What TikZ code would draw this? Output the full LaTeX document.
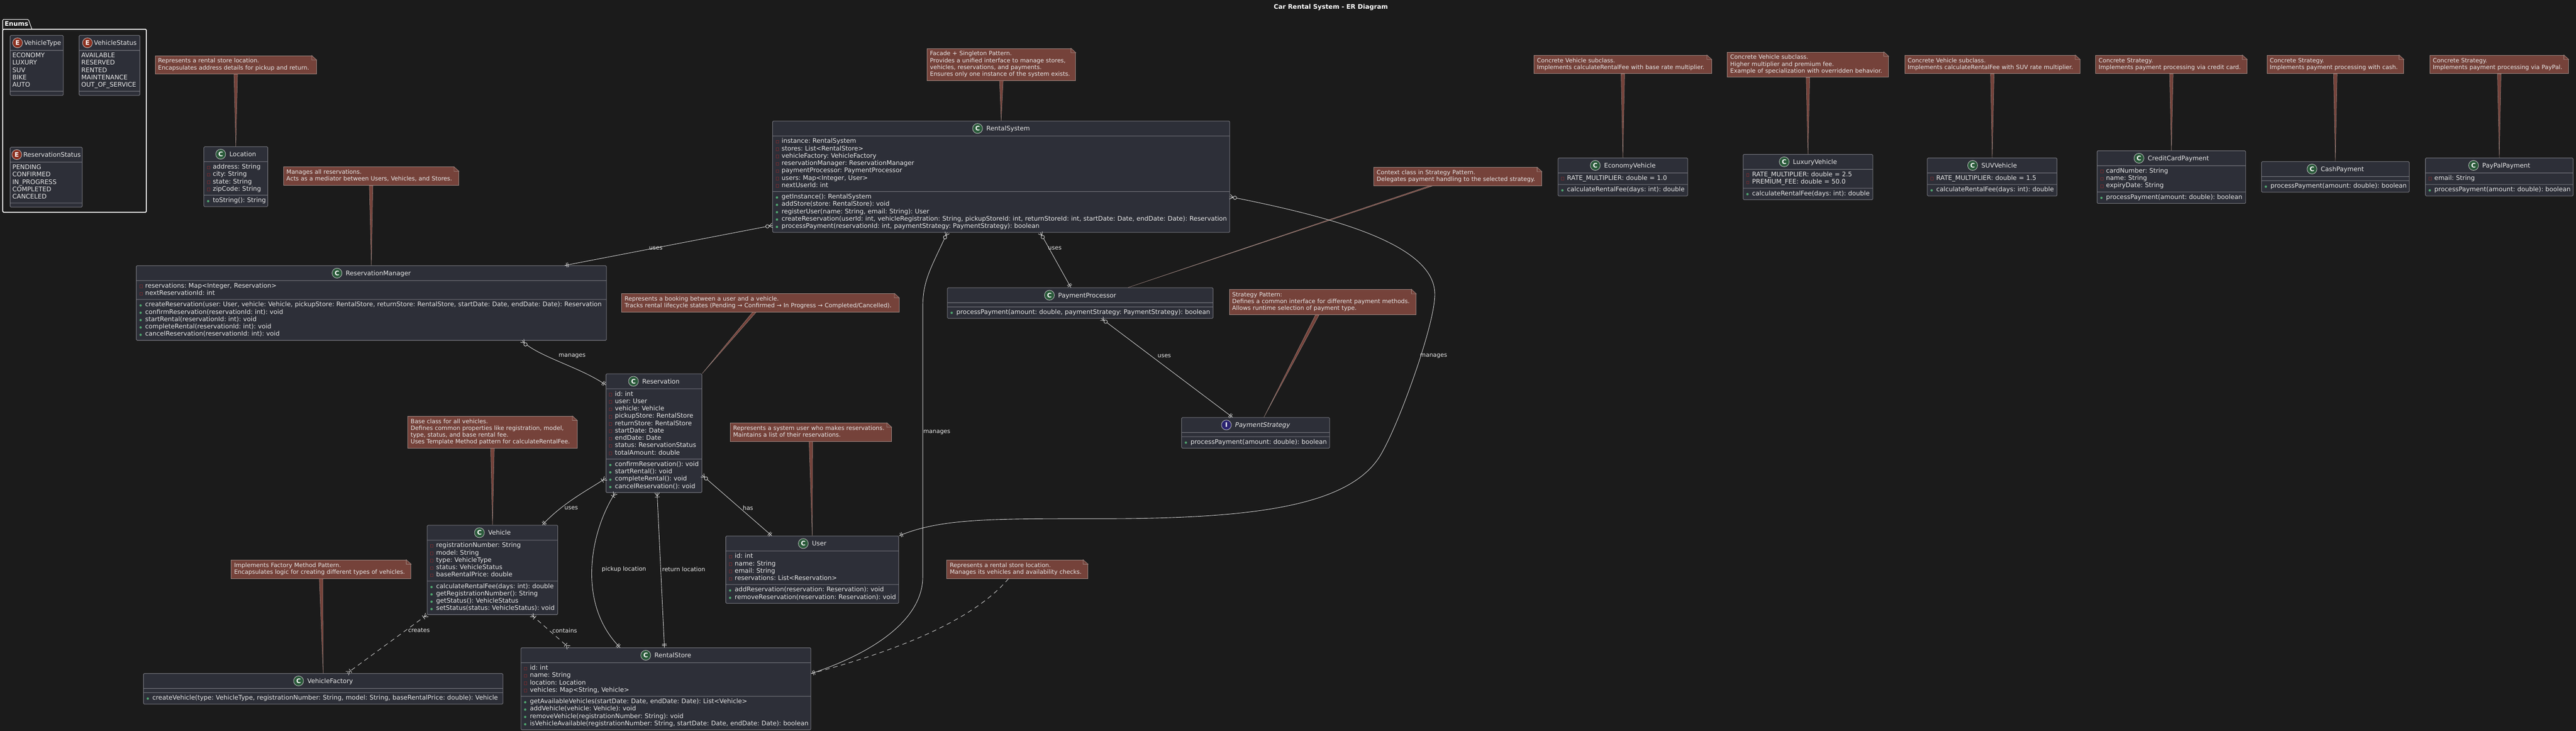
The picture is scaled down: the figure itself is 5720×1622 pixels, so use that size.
\documentclass[tikz,border=0pt]{standalone}
\usepackage{fontspec}
\setmainfont{DejaVu Sans}
\usepackage{xcolor}
\usetikzlibrary{arrows.meta, shapes.multipart}
\frenchspacing

\definecolor{pagebg}{HTML}{1B1B1B}
\definecolor{boxfill}{HTML}{2D2F38}
\definecolor{boxline}{HTML}{74757C}
\definecolor{notefill}{HTML}{75423A}
\definecolor{noteline}{HTML}{A08A84}
\definecolor{linkcolor}{HTML}{DDDDDD}
\definecolor{textcolor}{HTML}{E8E8E8}
\definecolor{classgreen}{HTML}{2A5A3A}
\definecolor{enumred}{HTML}{8A2F1F}
\definecolor{ifaceblue}{HTML}{2B2370}
\definecolor{privred}{HTML}{6E2C30}
\definecolor{pubgreen}{HTML}{4FA56E}

% End markers of the relations
\newcommand{\umlend}[2]{\pgfdeclarearrow{name=#1,
	setup code={\pgfarrowssetlineend{0pt}\pgfarrowssettipend{0pt}\pgfarrowssetbackend{-7pt}%
		\pgfarrowshullpoint{0pt}{3pt}\pgfarrowshullpoint{-7pt}{3pt}%
		\pgfarrowshullpoint{-7pt}{-3pt}\pgfarrowshullpoint{0pt}{-3pt}},
	drawing code={\pgfsetlinewidth{.5pt}\pgfsetdash{}{0pt}#2}}}
\newcommand{\crowfoot}{\pgfpathmoveto{\pgfpoint{0pt}{2.6pt}}\pgfpathlineto{\pgfpoint{-3.6pt}{0pt}}\pgfpathlineto{\pgfpoint{0pt}{-2.6pt}}\pgfusepathqstroke}
\newcommand{\crossbar}[1]{\pgfpathmoveto{\pgfpoint{#1}{2.6pt}}\pgfpathlineto{\pgfpoint{#1}{-2.6pt}}\pgfusepathqstroke}
\umlend{ZeroMany}{\crowfoot\pgfsetfillcolor{pagebg}\pgfpathcircle{\pgfpoint{-5.6pt}{0pt}}{1.9pt}\pgfusepathqfillstroke}
\umlend{OneMany}{\crowfoot\crossbar{-4.6pt}}
\umlend{OnlyOne}{\crossbar{-2.2pt}\crossbar{-3.8pt}}

% Class heads and members
\newcommand{\umlhead}[4]{\noindent\makebox[\linewidth]{\rule[-3.5pt]{0pt}{12pt}\tikz[baseline=(i.base)]\node[iconball,fill=#1] (i) {#2};\hspace{#3}\textcolor{textcolor}{#4}}\par}
\newcommand{\classhead}[1]{\umlhead{classgreen}{C}{4pt}{#1}}
\newcommand{\enumhead}[1]{\umlhead{enumred}{E}{1.5pt}{#1}}
\newcommand{\fld}[1]{\noindent\strut\makebox[7.5pt][l]{\hspace{1pt}\tikz[baseline=0pt]\draw[sharp corners,draw=privred,fill=boxfill,line width=.5pt] (0pt,0pt) rectangle (2.8pt,3.2pt);}\mbox{\textcolor{textcolor}{#1}}\par}
\newcommand{\mth}[1]{\noindent\strut\makebox[7.5pt][l]{\hspace{1pt}\tikz[baseline=0pt]\fill[pubgreen] (1.3pt,1.4pt) circle (1.3pt);}\mbox{\textcolor{textcolor}{#1}}\par}
\newcommand{\en}[1]{\noindent\strut\mbox{#1}\par}
\newcommand{\nt}[1]{\strut #1\strut}

\tikzset{
	iconball/.style={circle,draw=white!75!black,line width=.5pt,text=white,minimum size=11pt,inner sep=0pt,font=\fontsize{7}{8}\selectfont\bfseries},
	classw/.code={\pgfmathsetmacro\boxw{#1/2-5}\pgfkeysalso{/tikz/text width=\boxw pt}},
	notew/.code={\pgfmathsetmacro\boxw{#1/2-6.5}\pgfkeysalso{/tikz/text width=\boxw pt}},
	umlclass/.style={classw=#1,anchor=north west,rectangle split,rectangle split parts=3,
		rectangle split empty part height=0pt,rectangle split empty part depth=0pt,
		draw=boxline,fill=boxfill,line width=.6pt,rounded corners=1pt,
		inner xsep=2.5pt,inner ysep=2pt,text=textcolor,font=\fontsize{7}{8.15}\selectfont},
	umlnote/.style={notew=#1,anchor=north west,rectangle,draw=noteline,fill=notefill,line width=.5pt,
		inner xsep=3.25pt,inner ysep=2.75pt,align=left,text=textcolor,font=\fontsize{6.5}{7.5}\selectfont},
	notelink/.style={draw=noteline,fill=notefill,line width=.3pt},
	notefold/.style={draw=noteline,fill=notefill,line width=.4pt},
	rel/.style={draw=linkcolor,line width=.5pt},
	reldash/.style={rel,dash pattern=on 5pt off 4pt},
	rellabel/.style={anchor=west,inner sep=0pt,text=textcolor,font=\fontsize{6.5}{7.5}\selectfont}
}

\begin{document}
\begin{tikzpicture}[x=0.5pt,y=-0.5pt]
	\useasboundingbox (0,0) rectangle (5720,1622);
	\fill[pagebg] (0,0) rectangle (5720,1622);

	% Title
	\node[text=white,font=\fontsize{7}{8}\selectfont\bfseries] (title) at (2955,16) {Car Rental System - ER Diagram};

	% Enums package
	\draw[white,line width=1pt,rounded corners=1pt] (6,65) rectangle (325,471);
	\draw[white,line width=.6pt,rounded corners=1pt] (6,65) -- (6,43) -- (63,43) -- (71,65);
	\node[anchor=west,inner sep=0pt,text=white,font=\fontsize{7}{8}\selectfont\bfseries] (enums) at (10,53) {Enums};
	\node[umlclass=118] (vehicletype) at (22,78) {\enumhead{VehicleType}
		\nodepart{two}\en{ECONOMY}\en{LUXURY}\en{SUV}\en{BIKE}\en{AUTO}
		\nodepart{three}};
	\node[umlclass=135] (vehiclestatus) at (175,78) {\enumhead{VehicleStatus}
		\nodepart{two}\en{AVAILABLE}\en{RESERVED}\en{RENTED}\en{MAINTENANCE}\en{OUT\_OF\_SERVICE}
		\nodepart{three}};
	\node[umlclass=160] (resstatus) at (22,326) {\enumhead{ReservationStatus}
		\nodepart{two}\en{PENDING}\en{CONFIRMED}\en{IN\_PROGRESS}\en{COMPLETED}\en{CANCELED}
		\nodepart{three}};

	% Classes
	\node[umlclass=142] (location) at (452,325) {\classhead{Location}
		\nodepart{two}\fld{address: String}\fld{city: String}\fld{state: String}\fld{zipCode: String}
		\nodepart{three}\mth{toString(): String}};
	\node[umlclass=1044] (manager) at (302,589) {\classhead{ReservationManager}
		\nodepart{two}\fld{reservations: Map<Integer, Reservation>}\fld{nextReservationId: int}
		\nodepart{three}\mth{createReservation(user: User, vehicle: Vehicle, pickupStore: RentalStore, returnStore: RentalStore, startDate: Date, endDate: Date): Reservation}\mth{confirmReservation(reservationId: int): void}\mth{startRental(reservationId: int): void}\mth{completeRental(reservationId: int): void}\mth{cancelReservation(reservationId: int): void}};
	\node[umlclass=1015] (system) at (1715,268) {\classhead{RentalSystem}
		\nodepart{two}\fld{instance: RentalSystem}\fld{stores: List<RentalStore>}\fld{vehicleFactory: VehicleFactory}\fld{reservationManager: ReservationManager}\fld{paymentProcessor: PaymentProcessor}\fld{users: Map<Integer, User>}\fld{nextUserId: int}
		\nodepart{three}\mth{getInstance(): RentalSystem}\mth{addStore(store: RentalStore): void}\mth{registerUser(name: String, email: String): User}\mth{createReservation(userId: int, vehicleRegistration: String, pickupStoreId: int, returnStoreId: int, startDate: Date, endDate: Date): Reservation}\mth{processPayment(reservationId: int, paymentStrategy: PaymentStrategy): boolean}};
	\node[umlclass=288] (economy) at (3459,350) {\classhead{EconomyVehicle}
		\nodepart{two}\fld{RATE\_MULTIPLIER: double = 1.0}
		\nodepart{three}\mth{calculateRentalFee(days: int): double}};
	\node[umlclass=288] (luxury) at (3870,342) {\classhead{LuxuryVehicle}
		\nodepart{two}\fld{RATE\_MULTIPLIER: double = 2.5}\fld{PREMIUM\_FEE: double = 50.0}
		\nodepart{three}\mth{calculateRentalFee(days: int): double}};
	\node[umlclass=288] (suv) at (4279,350) {\classhead{SUVVehicle}
		\nodepart{two}\fld{RATE\_MULTIPLIER: double = 1.5}
		\nodepart{three}\mth{calculateRentalFee(days: int): double}};
	\node[umlclass=330] (credit) at (4656,334) {\classhead{CreditCardPayment}
		\nodepart{two}\fld{cardNumber: String}\fld{name: String}\fld{expiryDate: String}
		\nodepart{three}\mth{processPayment(amount: double): boolean}};
	\node[umlclass=328] (cash) at (5021,358) {\classhead{CashPayment}
		\nodepart{two}
		\nodepart{three}\mth{processPayment(amount: double): boolean}};
	\node[umlclass=328] (paypal) at (5385,350) {\classhead{PayPalPayment}
		\nodepart{two}\fld{email: String}
		\nodepart{three}\mth{processPayment(amount: double): boolean}};
	\node[umlclass=590] (processor) at (2103,638) {\classhead{PaymentProcessor}
		\nodepart{two}
		\nodepart{three}\mth{processPayment(amount: double, paymentStrategy: PaymentStrategy): boolean}};
	\node[umlclass=329] (strategy) at (2623,926) {\umlhead{ifaceblue}{I}{4pt}{\itshape PaymentStrategy}
		\nodepart{two}
		\nodepart{three}\mth{processPayment(amount: double): boolean}};
	\node[umlclass=213] (reservation) at (1345,829) {\classhead{Reservation}
		\nodepart{two}\fld{id: int}\fld{user: User}\fld{vehicle: Vehicle}\fld{pickupStore: RentalStore}\fld{returnStore: RentalStore}\fld{startDate: Date}\fld{endDate: Date}\fld{status: ReservationStatus}\fld{totalAmount: double}
		\nodepart{three}\mth{confirmReservation(): void}\mth{startRental(): void}\mth{completeRental(): void}\mth{cancelReservation(): void}};
	\node[umlclass=290] (vehicle) at (948,1165) {\classhead{Vehicle}
		\nodepart{two}\fld{registrationNumber: String}\fld{model: String}\fld{type: VehicleType}\fld{status: VehicleStatus}\fld{baseRentalPrice: double}
		\nodepart{three}\mth{calculateRentalFee(days: int): double}\mth{getRegistrationNumber(): String}\mth{getStatus(): VehicleStatus}\mth{setStatus(status: VehicleStatus): void}};
	\node[umlclass=384] (user) at (1611,1189) {\classhead{User}
		\nodepart{two}\fld{id: int}\fld{name: String}\fld{email: String}\fld{reservations: List<Reservation>}
		\nodepart{three}\mth{addReservation(reservation: Reservation): void}\mth{removeReservation(reservation: Reservation): void}};
	\node[umlclass=644] (store) at (1156,1437) {\classhead{RentalStore}
		\nodepart{two}\fld{id: int}\fld{name: String}\fld{location: Location}\fld{vehicles: Map<String, Vehicle>}
		\nodepart{three}\mth{getAvailableVehicles(startDate: Date, endDate: Date): List<Vehicle>}\mth{addVehicle(vehicle: Vehicle): void}\mth{removeVehicle(registrationNumber: String): void}\mth{isVehicleAvailable(registrationNumber: String, startDate: Date, endDate: Date): boolean}};
	\node[umlclass=798] (factory) at (318,1494) {\classhead{VehicleFactory}
		\nodepart{two}
		\nodepart{three}\mth{createVehicle(type: VehicleType, registrationNumber: String, model: String, baseRentalPrice: double): Vehicle}};

	% Notes
	\node[umlnote=358] (noteloc) at (344,123) {\nt{Represents a rental store location.\\Encapsulates address details for pickup and return.}};
	\node[umlnote=389] (notemgr) at (629,370) {\nt{Manages all reservations.\\Acts as a mediator between Users, Vehicles, and Stores.}};
	\node[umlnote=330] (notesys) at (2058,107) {\nt{Facade + Singleton Pattern.\\Provides a unified interface to manage stores,\\vehicles, reservations, and payments.\\Ensures only one instance of the system exists.}};
	\node[umlnote=394] (noteeco) at (3406,122) {\nt{Concrete Vehicle subclass.\\Implements calculateRentalFee with base rate multiplier.}};
	\node[umlnote=358] (notelux) at (3835,115) {\nt{Concrete Vehicle subclass.\\Higher multiplier and premium fee.\\Example of specialization with overridden behavior.}};
	\node[umlnote=389] (notesuv) at (4229,122) {\nt{Concrete Vehicle subclass.\\Implements calculateRentalFee with SUV rate multiplier.}};
	\node[umlnote=336] (notecard) at (4653,122) {\nt{Concrete Strategy.\\Implements payment processing via credit card.}};
	\node[umlnote=304] (notecash) at (5033,122) {\nt{Concrete Strategy.\\Implements payment processing with cash.}};
	\node[umlnote=308] (notepay) at (5395,122) {\nt{Concrete Strategy.\\Implements payment processing via PayPal.}};
	\node[umlnote=373] (notectx) at (3050,371) {\nt{Context class in Strategy Pattern.\\Delegates payment handling to the selected strategy.}};
	\node[umlnote=415] (notestrat) at (2729,642) {\nt{Strategy Pattern:\\Defines a common interface for different payment methods.\\Allows runtime selection of payment type.}};
	\node[umlnote=616] (noteres) at (1380,651) {\nt{Represents a booking between a user and a vehicle.\\Tracks rental lifecycle states (Pending → Confirmed → In Progress → Completed/Cancelled).}};
	\node[umlnote=358] (noteuser) at (1621,938) {\nt{Represents a system user who makes reservations.\\Maintains a list of their reservations.}};
	\node[umlnote=376] (notevehicle) at (905,923) {\nt{Base class for all vehicles.\\Defines common properties like registration, model,\\type, status, and base rental fee.\\Uses Template Method pattern for calculateRentalFee.}};
	\node[umlnote=399] (notefactory) at (513,1242) {\nt{Implements Factory Method Pattern.\\Encapsulates logic for creating different types of vehicles.}};
	\node[umlnote=313] (notestore) at (2102,1242) {\nt{Represents a rental store location.\\Manages its vehicles and availability checks.}};

	% Folded corners of the notes
	\foreach \n in {noteloc,notemgr,notesys,noteeco,notelux,notesuv,notecard,notecash,notepay,notectx,notestrat,noteres,noteuser,notevehicle,notefactory,notestore} {
		\fill[pagebg] ([xshift=-5.5pt,yshift=.4pt]\n.north east) -- ([xshift=.4pt,yshift=.4pt]\n.north east) -- ([xshift=.4pt,yshift=-5pt]\n.north east) -- cycle;
		\filldraw[notefold] ([xshift=-5.5pt]\n.north east) -- ([yshift=-5pt]\n.north east) -- ([xshift=-5.5pt,yshift=-5pt]\n.north east) -- cycle;
	}

	% Note wedges
	\foreach \a/\b in {noteloc.south/location.north,notemgr.south/manager.north,notesys.south/system.north,noteeco.south/economy.north,notelux.south/luxury.north,notesuv.south/suv.north,notecard.south/credit.north,notecash.south/cash.north,notepay.south/paypal.north,notectx.-161/processor.18.7,notestrat.-113.7/strategy.62.7,noteres.-123/reservation.north east,noteuser.south/user.north,notevehicle.south/vehicle.north,notefactory.south/factory.north}
		\filldraw[notelink] ([xshift=-2pt]\a) -- ([xshift=2pt]\a) -- (\b) -- cycle;

	% Relations
	\draw[rel,ZeroMany-OnlyOne] (system.-168.5) -- (manager.11.18);
	\draw[rel,ZeroMany-OnlyOne] (system.-55.7) -- (processor.121.6);
	\draw[rel,ZeroMany-OnlyOne] (processor.-36.5) -- (strategy.146);
	\draw[rel,ZeroMany-OnlyOne] (manager.-14.73) .. controls (1190,790) and (1290,815) .. (reservation.135.8);
	\draw[rel,ZeroMany-OnlyOne] (reservation.-41.6) -- (user.140.3);
	\draw[rel,OneMany-OnlyOne] (reservation.-137.5) .. controls (1310,1085) and (1250,1115) .. (vehicle.42.9);
	\draw[rel,OneMany-OnlyOne] (reservation.-123.1) .. controls (1310,1180) and (1280,1340) .. (store.138.6);
	\draw[rel,OneMany-OnlyOne] (reservation.-87.6) -- (store.92.6);
	\draw[rel,ZeroMany-OnlyOne] (system.-134.5) .. controls (2070,590) and (2049,620) .. (2049,680) -- (2049,1280) .. controls (2049,1370) and (1950,1445) .. (store.6.4);
	\draw[rel,ZeroMany-OnlyOne] (system.-5.9) .. controls (2950,480) and (3186,540) .. (3186,653) .. controls (3186,720) and (3110,930) .. (3071,1000) .. controls (3010,1120) and (2800,1151) .. (2450,1151) .. controls (2200,1151) and (2090,1150) .. (user.north east);
	\draw[reldash,OneMany-OneMany] (vehicle.south west) -- (factory.33);
	\draw[reldash,OneMany-OneMany] (vehicle.-49.3) -- (store.157.4);
	\draw[reldash] (notestore.-133.6) .. controls (2150,1390) and (1950,1455) .. (store.6.4);

	% Relation labels
	\node[rellabel] (lbluses) at (1441,551) {uses};
	\node[rellabel] (lblpay) at (2327,551) {uses};
	\node[rellabel] (lblstrat) at (2570,790) {uses};
	\node[rellabel] (lblmgr) at (1240,790) {manages};
	\node[rellabel] (lblstore) at (2050,959) {manages};
	\node[rellabel] (lbluser) at (3153,790) {manages};
	\node[rellabel] (lblhas) at (1649,1127) {has};
	\node[rellabel] (lblveh) at (1253,1127) {uses};
	\node[rellabel] (lblpick) at (1336,1263) {pickup location};
	\node[rellabel] (lblret) at (1470,1263) {return location};
	\node[rellabel] (lblcreate) at (906,1399) {creates};
	\node[rellabel] (lblcont) at (1226,1399) {contains};
\end{tikzpicture}
\end{document}
